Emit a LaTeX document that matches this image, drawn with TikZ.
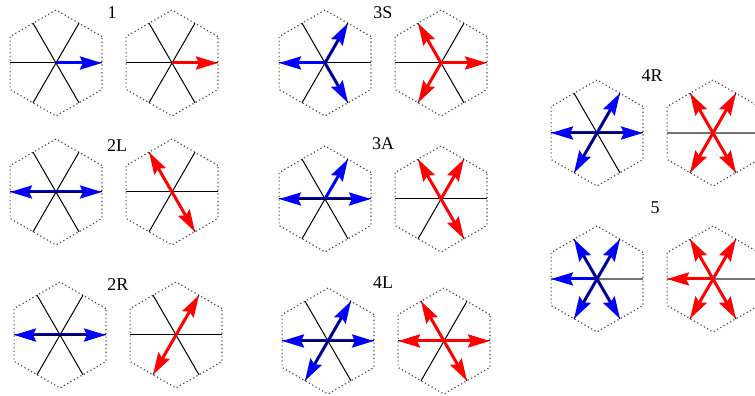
\documentclass[tikz,border=0pt]{standalone}
\usepackage{fontspec}
\setmainfont{Liberation Serif}
\usetikzlibrary{arrows.meta}

% one hexagon with its three spokes; optional arg = style of the horizontal spoke
\newcommand{\hexcell}[2][spoke]{%
  \draw[hexedge] (#2) ++(30:53) -- ++(150:53) -- ++(210:53) -- ++(270:53)
    -- ++(330:53) -- ++(30:53) -- cycle;
  \draw[#1] (#2) ++(180:46) -- ++(0:92);
  \draw[spoke] (#2) ++(240:46) -- ++(60:92);
  \draw[spoke] (#2) ++(300:46) -- ++(120:92);
}
% arrows out of a centre: centre, style, list of angles
\newcommand{\hexarrows}[3]{%
  \foreach \a in {#3} \draw[#2] (#1) -- ++(\a:46);
}
% dark core where a spoke shows through a blue shaft
\newcommand{\hexcore}[2]{%
  \foreach \a in {#2} \draw[navycore] (#1) -- ++(\a:27);
}

\begin{document}
\begin{tikzpicture}[x=0.5pt,y=0.5pt,
  hexedge/.style={black!70, line width=0.6pt, dash pattern=on 0.6pt off 1.3pt},
  spoke/.style={black, line width=0.5pt},
  graybar/.style={black!55, line width=1.1pt},
  navycore/.style={blue!35!black, line width=0.8pt},
  barrow/.style={blue, line width=1.5pt, -{Stealth[length=11pt,width=6.5pt,inset=1.5pt]}},
  rarrow/.style={red, line width=1.5pt, -{Stealth[length=11pt,width=6.5pt,inset=1.5pt]}},
  lab/.style={font=\fontsize{9}{10}\selectfont, inner sep=0pt}]
  \useasboundingbox (0,0) rectangle (755,396);
  \clip (0,0) rectangle (755,396);

  % centres
  \coordinate (c1b) at (56,333);   \coordinate (c1r) at (172,333);
  \coordinate (c3Sb) at (325,333); \coordinate (c3Sr) at (441,333);
  \coordinate (c2Lb) at (56,204);  \coordinate (c2Lr) at (172,204);
  \coordinate (c3Ab) at (325,197); \coordinate (c3Ar) at (441,197);
  \coordinate (c2Rb) at (60,61);   \coordinate (c2Rr) at (176,61);
  \coordinate (c4Lb) at (328,55);  \coordinate (c4Lr) at (444,55);
  \coordinate (c4Rb) at (597,263); \coordinate (c4Rr) at (713,263);
  \coordinate (c5b) at (597,117);  \coordinate (c5r) at (713,117);

  % hexagons
  \foreach \c in {c1b,c1r,c3Sb,c3Sr,c2Lb,c2Lr,c3Ab,c3Ar,c2Rb,c2Rr,c4Lb,c4Lr,c4Rb}
    {\hexcell{\c}}
  \hexcell[graybar]{c4Rr}
  \hexcell[graybar]{c5b}
  \hexcell[graybar]{c5r}

  % labels
  \node[lab] (t1) at (112,383) {1};
  \node[lab] (t3S) at (383,383) {3S};
  \node[lab] (t2L) at (117,250) {2L};
  \node[lab] (t3A) at (383,252) {3A};
  \node[lab] (t2R) at (118,111) {2R};
  \node[lab] (t4L) at (383,113) {4L};
  \node[lab] (t4R) at (652,320) {4R};
  \node[lab] (t5) at (655,188) {5};

  % arrows
  \hexarrows{c1b}{barrow}{0}
  \hexarrows{c1r}{rarrow}{0}
  \hexarrows{c3Sb}{barrow}{180,60,300}
  \hexarrows{c3Sr}{rarrow}{0,120,240}
  \hexarrows{c2Lb}{barrow}{0,180}
  \hexarrows{c2Lr}{rarrow}{120,300}
  \hexarrows{c3Ab}{barrow}{180,0,60}
  \hexarrows{c3Ar}{rarrow}{120,60,300}
  \hexarrows{c2Rb}{barrow}{0,180}
  \hexarrows{c2Rr}{rarrow}{60,240}
  \hexarrows{c4Lb}{barrow}{180,0,60,240}
  \hexarrows{c4Lr}{rarrow}{180,0,120,300}
  \hexarrows{c4Rb}{barrow}{180,0,60,240}
  \hexarrows{c4Rr}{rarrow}{120,60,240,300}
  \hexarrows{c5b}{barrow}{180,120,60,240,300}
  \hexarrows{c5r}{rarrow}{180,120,60,240,300}

  % spokes seen through the blue shafts
  \hexcore{c3Sb}{60,300}
  \hexcore{c2Lb}{0,180}
  \hexcore{c3Ab}{0,180}
  \hexcore{c2Rb}{0,180}
  \hexcore{c4Lb}{180,0,60,240}
  \hexcore{c4Rb}{180,0,60,240}
  \hexcore{c5b}{120,60,240,300}
\end{tikzpicture}
\end{document}
